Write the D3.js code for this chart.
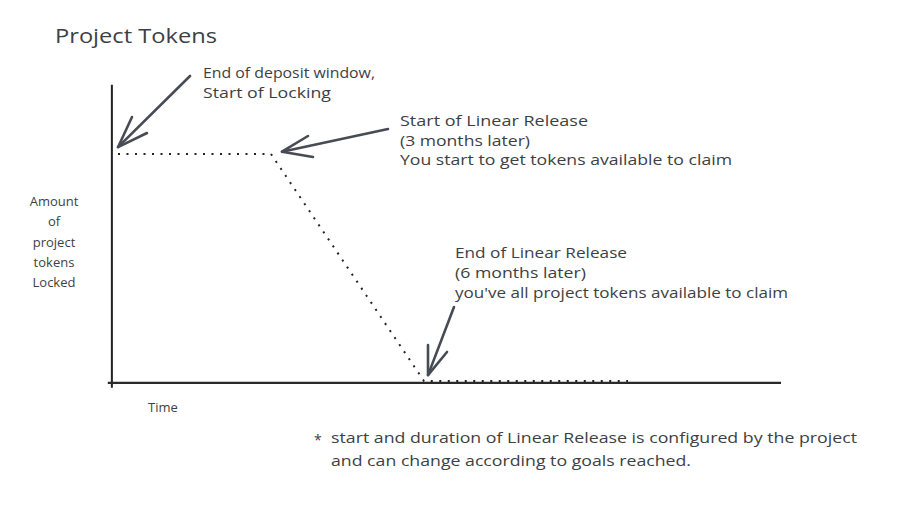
<!DOCTYPE html>
<html>
<head>
<meta charset="utf-8">
<script src="https://cdn.jsdelivr.net/npm/d3@7"></script>
<style>
  html, body { margin: 0; padding: 0; background: #fff; }
  svg text { font-family: "Open Sans", "DejaVu Sans", sans-serif; fill: #3d3f44; }
</style>
</head>
<body>
<script>
// ---- data ----
const months = [0, 3, 6, 10];          // time points (months after deposit window)
const lockedPct = [100, 100, 0, 0];    // share of project tokens locked (%)
const title = "Project Tokens";
const yLabelLines = ["Amount", "of", "project", "tokens", "Locked"];
const xLabel = "Time";
const noteAnnotations = [
  { lines: ["End of deposit window,", "Start of Locking"], month: 0, value: 100 },
  { lines: ["Start of Linear Release", "(3 months later)", "You start to get tokens available to claim"], month: 3, value: 100 },
  { lines: ["End of Linear Release", "(6 months later)", "you've all project tokens available to claim"], month: 6, value: 0 }
];
const footnoteLines = ["start and duration of Linear Release is configured by the project",
                       "and can change according to goals reached."];

// ---- layout ----
const W = 906, H = 522;
const svg = d3.select("body").append("svg").attr("width", W).attr("height", H);

const x = d3.scaleLinear().domain([0, 13]).range([118, 781]);
const y = d3.scaleLinear().domain([0, 100]).range([381, 154]);

// axes
svg.append("line").attr("x1", x(-0.12)).attr("x2", x(-0.12)).attr("y1", y(130.5)).attr("y2", y(-3))
  .attr("stroke", "#222").attr("stroke-width", 2);
svg.append("line").attr("x1", x(-0.2)).attr("x2", x(13)).attr("y1", y(-0.8)).attr("y2", y(-0.8))
  .attr("stroke", "#2a2a2a").attr("stroke-width", 2.2);

// dotted series
const line = d3.line().x((d, i) => x(months[i])).y(d => y(d));
svg.append("path").datum(lockedPct).attr("d", line)
  .attr("fill", "none").attr("stroke", "#222").attr("stroke-width", 2)
  .attr("stroke-dasharray", "2 6.5");

// title
svg.append("text").attr("x", 55).attr("y", 43).attr("font-size", 20)
  .attr("textLength", 162).attr("lengthAdjust", "spacingAndGlyphs").text(title);

// y label
const yl = svg.append("text").attr("font-size", 13).attr("text-anchor", "middle");
yLabelLines.forEach((t, i) => yl.append("tspan").attr("x", 54).attr("y", 206 + i * 20.3).text(t));

// x label
svg.append("text").attr("x", 148).attr("y", 412).attr("font-size", 13).text(xLabel);

// annotations text
const annotPos = [
  { x: 203, y0: 78, dy: 19.5, widths: [172, 128] },
  { x: 400, y0: 126, dy: 19.5, widths: [188, 130, 332] },
  { x: 455, y0: 258, dy: 20, widths: [172, 131, 333] }
];
noteAnnotations.forEach((a, k) => {
  const p = annotPos[k];
  const t = svg.append("text").attr("font-size", 14.5);
  a.lines.forEach((s, i) => t.append("tspan").attr("x", p.x).attr("y", p.y0 + i * p.dy)
    .attr("textLength", p.widths[i]).attr("lengthAdjust", "spacingAndGlyphs").text(s));
});

// arrows (start offset relative to data anchor)
const arrowStyle = g => g.attr("fill", "none").attr("stroke", "#474c54")
  .attr("stroke-width", 2.6).attr("stroke-linecap", "round").attr("stroke-linejoin", "round");
const arrows = [
  { tip: [x(0), y(103)], start: [190, 76], wings: [[132, 117], [147, 133]] },
  { tip: [x(3) + 11, y(101)], start: [388, 129], wings: [[308, 136], [313, 157]] },
  { tip: [x(6) + 4, y(2.6)], start: [454, 307], wings: [[428, 345], [447, 352]] }
];
arrows.forEach(a => {
  const g = svg.append("g").call(arrowStyle);
  g.append("path").attr("d", d3.line()([a.start, a.tip]));
  g.append("path").attr("d", d3.line()([a.wings[0], a.tip, a.wings[1]]));
});

// footnote
svg.append("text").attr("x", 314).attr("y", 445).attr("font-size", 14).text("*");
const fn = svg.append("text").attr("font-size", 14.5);
const fnW = [526, 360];
footnoteLines.forEach((s, i) => fn.append("tspan").attr("x", 331).attr("y", 443 + i * 23)
  .attr("textLength", fnW[i]).attr("lengthAdjust", "spacingAndGlyphs").text(s));
</script>
</body>
</html>
